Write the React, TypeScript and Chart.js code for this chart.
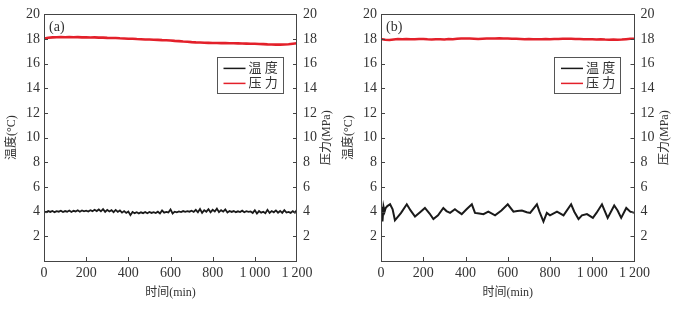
import React, { useEffect, useRef } from 'react';
import { Chart, registerables } from 'chart.js';

Chart.register(...registerables);

// ---------- data ----------
const SERIES_LABELS = ['温度', '压力'];
const X_TITLE = '时间(min)';
const Y_TITLE = '温度(°C)';
const Y1_TITLE = '压力(MPa)';
const X_MIN = 0;
const X_MAX = 1200;
const X_STEP = 200;
const Y_MIN = 0;
const Y_MAX = 20;
const Y_STEP = 2;

// panel (a): sampled every 10 min (temperature) and 20 min (pressure)
const STEP_TEMP_A = 10;
const TEMP_A = [
  4.02, 3.95, 4.05, 3.98, 4.06, 3.96, 4.04, 4.0, 4.08, 3.97,
  4.05, 4.0, 4.09, 3.98, 4.07, 4.02, 4.12, 4.0, 4.1, 4.03,
  4.08, 4.01, 4.12, 4.04, 4.15, 4.05, 4.18, 4.03, 4.2, 3.98,
  4.15, 4.02, 4.12, 3.96, 4.14, 3.98, 4.1, 3.92, 4.05, 3.9,
  4.02, 3.72, 3.98, 3.88, 3.96, 3.86, 3.95, 3.88, 3.97, 3.87,
  3.98, 3.9, 3.96, 3.89, 4.0, 3.86, 4.1, 3.92, 3.98, 3.94,
  4.18, 3.85, 4.0, 3.95, 4.02, 3.97, 4.05, 3.99, 4.04, 4.0,
  4.08, 3.98, 4.15, 3.95, 4.22, 3.9, 4.12, 4.0, 4.2, 3.95,
  4.15, 4.02, 4.25, 3.96, 4.12, 4.0, 4.18, 3.94, 4.06, 3.98,
  4.05, 3.96, 4.03, 3.97, 4.08, 3.95, 4.04, 3.98, 4.02, 3.9,
  4.12, 3.85, 4.05, 3.92, 4.0, 3.88, 4.15, 3.9, 4.05, 3.95,
  4.1, 3.92, 4.06, 3.9, 4.12, 3.93, 3.98, 3.9, 4.05, 3.92,
  4.15,
];
const STEP_PRES = 20;
const PRES_A = [
  18.05, 18.1, 18.14, 18.15, 18.16, 18.15, 18.17, 18.15, 18.16, 18.14,
  18.15, 18.13, 18.14, 18.12, 18.12, 18.1, 18.09, 18.08, 18.06, 18.05,
  18.03, 18.02, 18.0, 17.99, 17.97, 17.96, 17.94, 17.93, 17.91, 17.9,
  17.88, 17.85, 17.83, 17.8, 17.78, 17.75, 17.73, 17.72, 17.7, 17.69,
  17.68, 17.68, 17.67, 17.67, 17.66, 17.66, 17.65, 17.64, 17.63, 17.62,
  17.62, 17.6, 17.59, 17.57, 17.56, 17.55, 17.55, 17.56, 17.58, 17.62,
  17.66,
];

// panel (b)
const PRES_B = [
  18.0, 17.95, 17.93, 17.97, 18.0, 17.98, 18.0, 17.99, 17.98, 18.0,
  18.0, 17.98, 17.97, 17.99, 17.98, 17.97, 18.0, 17.99, 18.03, 18.05,
  18.05, 18.04, 18.03, 18.0, 18.02, 18.04, 18.05, 18.04, 18.06, 18.05,
  18.04, 18.03, 18.02, 18.0, 17.98, 18.0, 17.99, 17.98, 17.99, 18.0,
  17.99, 18.0, 18.01, 18.03, 18.02, 18.03, 18.01, 18.0, 17.98, 17.99,
  17.98, 17.97, 17.98, 17.96, 17.95, 17.97, 17.94, 17.96, 17.99, 18.02,
  18.03,
];
const TIME_B = [
  0, 3, 7, 12, 17, 22, 30, 43, 55, 66,
  95, 122, 140, 161, 185, 208, 230, 248, 270, 295,
  310, 327, 350, 365, 382, 405, 430, 445, 465, 485,
  508, 540, 570, 600, 627, 645, 667, 690, 706, 738,
  750, 769, 785, 800, 833, 864, 900, 915, 935, 951,
  975, 1003, 1020, 1046, 1073, 1104, 1120, 1137, 1161, 1180,
  1200,
];
const TEMP_B = [
  4.0, 4.4, 3.2, 4.4, 4.0, 4.3, 4.45, 4.6, 4.2, 3.3,
  3.9, 4.6, 4.1, 3.6, 3.95, 4.3, 3.85, 3.4, 3.7, 4.3,
  4.05, 3.9, 4.2, 4.0, 3.8, 4.2, 4.6, 3.9, 3.85, 3.8,
  4.0, 3.7, 4.1, 4.6, 4.0, 4.05, 4.1, 3.95, 3.9, 4.6,
  4.0, 3.2, 3.9, 3.7, 4.0, 3.7, 4.6, 4.0, 3.4, 3.7,
  3.8, 3.5, 3.9, 4.6, 3.5, 4.5, 4.1, 3.5, 4.3, 4.0,
  3.9,
];

// ---------- styles ----------
const FONT = "'Liberation Serif', 'Times New Roman', 'Noto Sans CJK SC', serif";
const TEXT = '#333';
const BLACK = '#1a1a1a';
const RED = '#e3202a';

const pts = (vals: number[], step: number) => vals.map((v, i) => ({ x: i * step, y: v }));
const ptsXY = (xs: number[], ys: number[]) => xs.map((x, i) => ({ x, y: ys[i] }));

const fmtX = (v: number) =>
  v >= 1000 ? `${Math.floor(v / 1000)}\u2009${String(v % 1000).padStart(3, '0')}` : String(v);

const decor = {
  id: 'decor',
  afterDraw(chart: any, _args: any, opts: any) {
    const { ctx, chartArea: a, scales } = chart;
    ctx.save();
    // frame
    ctx.strokeStyle = '#444';
    ctx.lineWidth = 1;
    ctx.strokeRect(Math.round(a.left) + 0.5, Math.round(a.top) + 0.5,
      Math.round(a.right - a.left) - 1, Math.round(a.bottom - a.top));
    // inward ticks
    const tl = 4;
    ctx.beginPath();
    scales.y.ticks.forEach((t: any) => {
      if (t.value <= Y_MIN || t.value >= Y_MAX) return;
      const py = Math.round(scales.y.getPixelForValue(t.value)) + 0.5;
      ctx.moveTo(a.left, py); ctx.lineTo(a.left + tl, py);
    });
    scales.y1.ticks.forEach((t: any) => {
      if (t.value <= Y_MIN || t.value >= Y_MAX) return;
      const py = Math.round(scales.y1.getPixelForValue(t.value)) + 0.5;
      ctx.moveTo(a.right, py); ctx.lineTo(a.right - tl, py);
    });
    scales.x.ticks.forEach((t: any) => {
      if (t.value <= X_MIN || t.value >= X_MAX) return;
      const px = Math.round(scales.x.getPixelForValue(t.value)) + 0.5;
      ctx.moveTo(px, a.bottom); ctx.lineTo(px, a.bottom - tl);
    });
    ctx.stroke();

    ctx.fillStyle = TEXT;
    // panel tag
    ctx.font = `14px ${FONT}`;
    ctx.textAlign = 'left';
    ctx.textBaseline = 'middle';
    ctx.fillText(opts.tag, a.left + 5, a.top + 13);

    // legend
    const lx = a.right - 80.5;
    const ly = a.top + 42.5;
    ctx.strokeStyle = '#555';
    ctx.strokeRect(Math.round(lx) + 0.5, Math.round(ly) + 0.5, 66, 36);
    const ds = chart.data.datasets;
    [0, 1].forEach((i) => {
      const yy = ly + 11.5 + i * 15;
      ctx.strokeStyle = ds[i].borderColor;
      ctx.lineWidth = 1.5;
      ctx.beginPath();
      ctx.moveTo(lx + 7, yy); ctx.lineTo(lx + 29, yy);
      ctx.stroke();
      ctx.fillStyle = TEXT;
      ctx.font = `13px ${FONT}`;
      ctx.fillText(ds[i].label.split('').join(' '), lx + 32, yy);
    });

    // axis titles
    ctx.font = `12px ${FONT}`;
    ctx.textAlign = 'center';
    ctx.fillText(X_TITLE, (a.left + a.right) / 2, 293);
    const cy = (a.top + a.bottom) / 2;
    ctx.save();
    ctx.translate(12, cy);
    ctx.rotate(-Math.PI / 2);
    ctx.fillText(Y_TITLE, 0, 0);
    ctx.restore();
    ctx.save();
    ctx.translate(a.right + 30, cy);
    ctx.rotate(-Math.PI / 2);
    ctx.fillText(Y1_TITLE, 0, 0);
    ctx.restore();
    ctx.restore();
  },
};

function Panel(props: { tag: string; temp: any[]; pres: any[]; tempWidth: number; left: number; width: number; rightW: number }) {
  const ref = useRef<HTMLCanvasElement>(null);
  useEffect(() => {
    const tickFont = { family: FONT, size: 14 };
    const yTicks = (padding: number) => ({
      stepSize: Y_STEP,
      padding,
      color: TEXT,
      font: tickFont,
      autoSkip: false,
      callback: (v: any) => (v === 0 ? '' : String(v)),
    });
    const chart = new Chart(ref.current!, {
      type: 'line',
      data: {
        datasets: [
          {
            label: SERIES_LABELS[0],
            data: props.temp,
            borderColor: BLACK,
            borderWidth: props.tempWidth,
            pointRadius: 0,
            tension: 0,
            yAxisID: 'y',
          },
          {
            label: SERIES_LABELS[1],
            data: props.pres,
            borderColor: RED,
            borderWidth: 2.6,
            pointRadius: 0,
            tension: 0,
            yAxisID: 'y1',
          },
        ],
      },
      options: {
        responsive: false,
        animation: false,
        devicePixelRatio: 1,
        layout: { padding: { top: 8, left: 0, right: 0, bottom: 0 } },
        plugins: {
          legend: { display: false },
          tooltip: { enabled: false },
          decor: { tag: props.tag },
        } as any,
        scales: {
          x: {
            type: 'linear',
            min: X_MIN,
            max: X_MAX,
            afterFit: (s: any) => { s.height = 50; },
            grid: { display: false, drawTicks: false },
            border: { display: false },
            ticks: {
              stepSize: X_STEP,
              padding: 4,
              maxRotation: 0,
              autoSkip: false,
              color: TEXT,
              font: tickFont,
              callback: (v: any) => fmtX(Number(v)),
            },
          },
          y: {
            type: 'linear',
            position: 'left',
            min: Y_MIN,
            max: Y_MAX,
            afterFit: (s: any) => { s.width = 44; },
            grid: { display: false, drawTicks: false },
            border: { display: false },
            ticks: yTicks(4),
          },
          y1: {
            type: 'linear',
            position: 'right',
            min: Y_MIN,
            max: Y_MAX,
            afterFit: (s: any) => { s.width = props.rightW; },
            grid: { display: false, drawTicks: false },
            border: { display: false },
            ticks: yTicks(6),
          },
        },
      } as any,
      plugins: [decor],
    });
    return () => chart.destroy();
  }, []);
  return (
    <canvas
      ref={ref}
      width={props.width}
      height={311}
      style={{ position: 'absolute', left: props.left, top: 0, width: props.width, height: 311 }}
    />
  );
}

export default function App() {
  return (
    <div style={{ position: 'absolute', left: 0, top: 0, width: 677, height: 311, background: '#fff', overflow: 'hidden' }}>
      <Panel tag="(a)" temp={pts(TEMP_A, STEP_TEMP_A)} pres={pts(PRES_A, STEP_PRES)} tempWidth={1.8} left={0} width={338} rightW={41} />
      <Panel tag="(b)" temp={ptsXY(TIME_B, TEMP_B)} pres={pts(PRES_B, STEP_PRES)} tempWidth={2} left={337} width={340} rightW={42.5} />
    </div>
  );
}
